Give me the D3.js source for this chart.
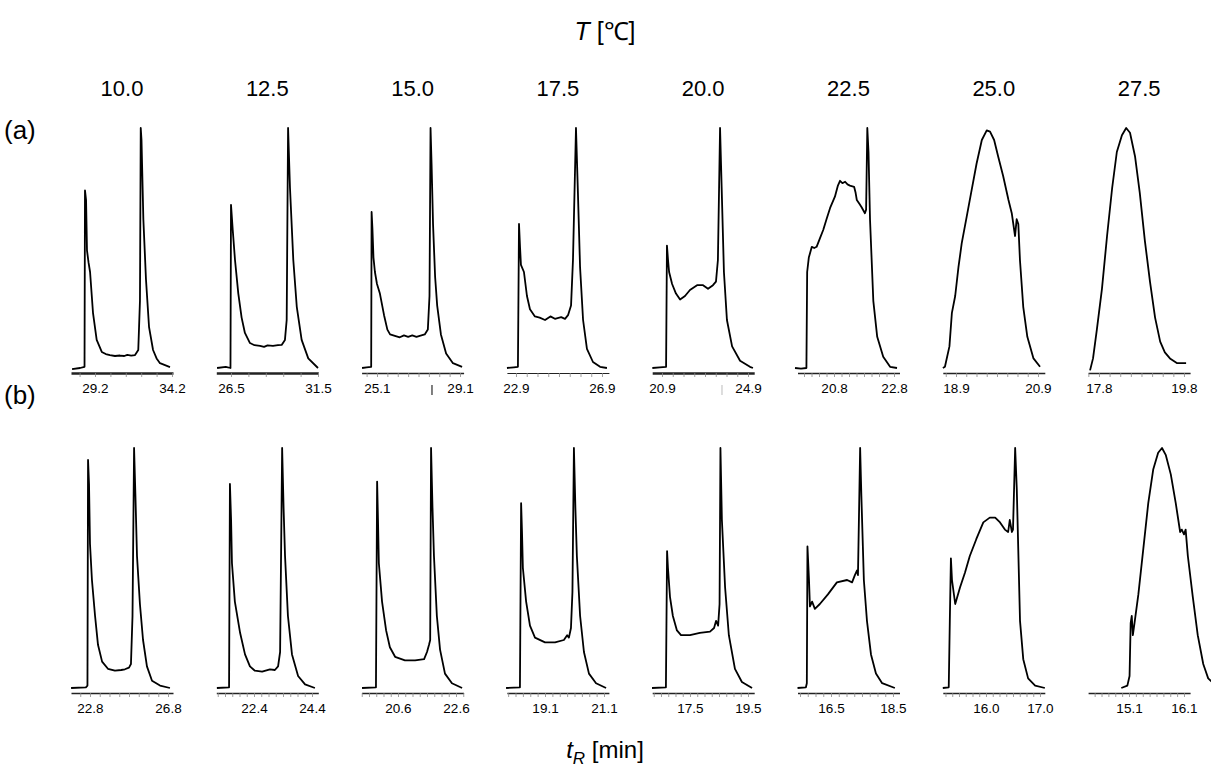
<!DOCTYPE html>
<html>
<head>
<meta charset="utf-8">
<script src="https://cdn.jsdelivr.net/npm/d3@7"></script>
<style>
  body { margin: 0; background: #fff; }
  svg { display: block; }
  text { font-family: "Liberation Sans", Arial, sans-serif; fill: #000; }
</style>
</head>
<body>
<svg id="chart" width="1211" height="776"></svg>
<script>
// Column temperatures (°C)
const temperatures = ["10.0", "12.5", "15.0", "17.5", "20.0", "22.5", "25.0", "27.5"];

// Time window [min] shown under each chromatogram
const windowsA = [[27.642, 34.265], [25.655, 31.517], [24.358, 29.273], [22.477, 27.221],
                  [20.444, 25.188], [19.583, 22.983], [18.578, 21.066], [17.544, 19.944]];
const windowsB = [[21.826, 27.056], [21.100, 24.617], [19.345, 22.862], [17.808, 21.266],
                  [16.197, 19.714], [15.419, 18.710], [15.200, 17.089], [14.356, 16.211]];

// Labelled retention times on each time axis
const tickLabelsA = [[29.2, 34.2], [26.5, 31.5], [25.1, 29.1], [22.9, 26.9],
                     [20.9, 24.9], [20.8, 22.8], [18.9, 20.9], [17.8, 19.8]];
const tickLabelsB = [[22.8, 26.8], [22.4, 24.4], [20.6, 22.6], [19.1, 21.1],
                     [17.5, 19.5], [16.5, 18.5], [16.0, 17.0], [15.1, 16.1]];

// Minor tick spacing [min]
const minorStepA = [1, 1, 0.5, 0.5, 0.5, 0.25, 0.25, 0.25];
const minorStepB = [0.5, 0.25, 0.25, 0.25, 0.25, 0.25, 0.125, 0.125];

// Chromatograms: [retention time (min), relative detector signal]
// Row (a)
const a10 = [[27.71,-0.005],[28.23,0],[28.52,0.005],[28.55,0.74],[28.62,0.70],[28.68,0.49],[28.78,0.44],[28.88,0.40],[29.07,0.23],[29.31,0.117],[29.64,0.067],[29.9,0.058],[30.17,0.054],[30.5,0.05],[30.82,0.052],[31.1,0.05],[31.3,0.055],[31.55,0.052],[31.8,0.054],[32.01,0.075],[32.12,0.28],[32.17,1.0],[32.22,0.95],[32.34,0.62],[32.51,0.37],[32.71,0.17],[32.97,0.075],[33.2,0.04],[33.42,0.02],[34.07,0.004]];
const a125 = [[25.70,0],[26.2,0.005],[26.47,0],[26.50,0.68],[26.60,0.575],[26.73,0.45],[26.92,0.31],[27.11,0.21],[27.30,0.146],[27.59,0.104],[27.85,0.095],[28.17,0.092],[28.4,0.088],[28.6,0.094],[28.91,0.092],[29.2,0.095],[29.41,0.096],[29.60,0.117],[29.70,0.2],[29.78,1.0],[29.89,0.75],[30.08,0.45],[30.28,0.255],[30.56,0.117],[30.94,0.04],[31.50,0]];
const a150 = [[24.38,0],[24.6,0.003],[24.82,0.005],[24.84,0.65],[24.88,0.58],[24.93,0.46],[25.0,0.40],[25.1,0.35],[25.24,0.31],[25.44,0.22],[25.6,0.16],[25.73,0.14],[26.0,0.133],[26.2,0.128],[26.4,0.136],[26.6,0.13],[26.8,0.136],[27.0,0.13],[27.2,0.135],[27.4,0.14],[27.55,0.16],[27.63,0.3],[27.68,1.0],[27.73,0.85],[27.8,0.6],[27.9,0.38],[28.0,0.26],[28.18,0.14],[28.43,0.06],[28.76,0.02],[29.2,0.005]];
const a175 = [[22.48,0],[22.8,0.003],[22.99,0.005],[23.04,0.60],[23.09,0.50],[23.13,0.43],[23.27,0.40],[23.41,0.30],[23.55,0.245],[23.78,0.215],[24.0,0.21],[24.25,0.2],[24.5,0.215],[24.71,0.205],[25.0,0.212],[25.18,0.205],[25.32,0.22],[25.46,0.26],[25.55,0.45],[25.69,1.0],[25.78,0.73],[25.88,0.42],[26.02,0.2],[26.20,0.08],[26.48,0.025],[26.81,0.005],[27.13,0]];
const a200 = [[20.45,0],[20.8,0.003],[21.09,0.005],[21.13,0.51],[21.18,0.45],[21.23,0.40],[21.37,0.35],[21.55,0.31],[21.74,0.285],[21.97,0.30],[22.20,0.325],[22.53,0.345],[22.81,0.345],[23.04,0.33],[23.27,0.345],[23.41,0.36],[23.50,0.45],[23.60,1.0],[23.69,0.70],[23.78,0.40],[23.92,0.2],[24.16,0.09],[24.53,0.03],[24.99,0.005],[25.13,0]];
const a225 = [[19.50,0],[19.7,-0.003],[19.88,0],[19.905,0.40],[19.96,0.46],[20.06,0.505],[20.14,0.50],[20.22,0.505],[20.33,0.54],[20.44,0.575],[20.55,0.62],[20.67,0.667],[20.83,0.714],[20.93,0.76],[21.00,0.78],[21.08,0.77],[21.17,0.776],[21.25,0.765],[21.33,0.76],[21.47,0.755],[21.52,0.73],[21.56,0.70],[21.64,0.685],[21.72,0.67],[21.83,0.645],[21.87,0.66],[21.91,1.0],[21.95,0.9],[22.0,0.62],[22.11,0.28],[22.24,0.13],[22.44,0.047],[22.67,0.005],[22.9,0]];
const a250 = [[18.58,0],[18.63,0.005],[18.74,0.09],[18.80,0.23],[18.88,0.30],[18.96,0.42],[19.04,0.52],[19.16,0.63],[19.28,0.74],[19.40,0.85],[19.53,0.95],[19.65,0.99],[19.73,0.985],[19.83,0.95],[19.93,0.88],[20.05,0.80],[20.18,0.70],[20.26,0.645],[20.34,0.55],[20.38,0.62],[20.42,0.60],[20.46,0.45],[20.54,0.255],[20.64,0.13],[20.79,0.04],[20.95,0.005]];
const a275 = [[17.59,-0.01],[17.66,0.04],[17.75,0.16],[17.87,0.33],[17.99,0.55],[18.11,0.75],[18.22,0.90],[18.34,0.97],[18.44,1.0],[18.53,0.98],[18.65,0.88],[18.76,0.73],[18.88,0.53],[19.0,0.36],[19.12,0.21],[19.24,0.11],[19.35,0.065],[19.47,0.04],[19.64,0.02],[19.85,0.02]];

// Row (b)
const b100 = [[21.83,0],[22.59,0.003],[22.67,0.01],[22.70,0.95],[22.75,0.85],[22.80,0.6],[22.90,0.45],[23.06,0.3],[23.21,0.18],[23.42,0.11],[23.72,0.08],[24.08,0.072],[24.4,0.075],[24.59,0.078],[24.80,0.085],[24.90,0.1],[24.98,0.3],[25.06,1.0],[25.13,0.8],[25.21,0.55],[25.36,0.35],[25.52,0.2],[25.72,0.09],[25.98,0.03],[26.39,0.01],[26.90,0]];
const b125 = [[21.12,0],[21.54,0.003],[21.57,0.85],[21.61,0.7],[21.64,0.52],[21.74,0.36],[21.92,0.23],[22.09,0.14],[22.26,0.09],[22.43,0.072],[22.68,0.068],[22.95,0.078],[23.12,0.075],[23.23,0.09],[23.30,0.15],[23.37,1.0],[23.42,0.75],[23.47,0.55],[23.57,0.3],[23.71,0.14],[23.92,0.05],[24.16,0.015],[24.50,0]];
const b150 = [[19.36,0],[19.84,0.003],[19.88,0.86],[19.91,0.7],[19.94,0.52],[20.05,0.36],[20.19,0.24],[20.32,0.17],[20.50,0.13],[20.84,0.115],[21.19,0.115],[21.50,0.12],[21.60,0.15],[21.67,0.18],[21.71,0.2],[21.74,1.0],[21.79,0.75],[21.84,0.55],[21.94,0.3],[22.05,0.16],[22.22,0.06],[22.46,0.02],[22.81,0]];
const b175 = [[17.78,0],[18.25,0.003],[18.29,0.77],[18.32,0.65],[18.35,0.5],[18.46,0.36],[18.59,0.26],[18.76,0.21],[19.10,0.19],[19.44,0.19],[19.74,0.2],[19.85,0.22],[19.91,0.21],[19.98,0.25],[20.03,0.4],[20.08,1.0],[20.13,0.75],[20.18,0.55],[20.29,0.3],[20.42,0.15],[20.59,0.06],[20.83,0.02],[21.17,0]];
const b200 = [[16.19,0],[16.67,0.003],[16.71,0.57],[16.74,0.5],[16.81,0.38],[16.91,0.3],[17.05,0.24],[17.19,0.22],[17.50,0.22],[17.84,0.23],[18.19,0.235],[18.33,0.25],[18.40,0.28],[18.47,0.26],[18.52,0.35],[18.55,1.0],[18.60,0.7],[18.71,0.42],[18.84,0.22],[19.05,0.08],[19.29,0.025],[19.64,0]];
const b225 = [[15.42,0],[15.69,0.003],[15.72,0.02],[15.74,0.59],[15.79,0.45],[15.82,0.34],[15.89,0.36],[15.98,0.33],[16.14,0.35],[16.40,0.39],[16.69,0.44],[17.02,0.45],[17.18,0.44],[17.27,0.47],[17.34,0.49],[17.37,0.47],[17.44,1.0],[17.48,0.8],[17.56,0.45],[17.66,0.28],[17.79,0.14],[17.95,0.06],[18.15,0.02],[18.56,0]];
const b250 = [[15.20,0],[15.31,0.003],[15.33,0.28],[15.35,0.54],[15.37,0.45],[15.43,0.35],[15.52,0.42],[15.61,0.48],[15.70,0.55],[15.82,0.62],[15.95,0.69],[16.07,0.71],[16.17,0.71],[16.26,0.69],[16.35,0.66],[16.41,0.65],[16.44,0.70],[16.48,0.65],[16.50,0.66],[16.54,1.0],[16.57,0.83],[16.63,0.28],[16.69,0.12],[16.78,0.04],[16.91,0.01],[17.09,0]];
const b275 = [[14.96,0],[15.07,0.01],[15.11,0.05],[15.13,0.27],[15.15,0.30],[15.17,0.22],[15.20,0.27],[15.27,0.39],[15.36,0.58],[15.45,0.77],[15.54,0.91],[15.63,0.98],[15.70,1.0],[15.77,0.97],[15.86,0.89],[15.95,0.77],[16.03,0.65],[16.06,0.66],[16.10,0.64],[16.13,0.66],[16.17,0.55],[16.26,0.38],[16.35,0.22],[16.45,0.1],[16.54,0.04],[16.66,0.015],[16.81,0.01]];

const tracesA = [a10, a125, a150, a175, a200, a225, a250, a275];
const tracesB = [b100, b125, b150, b175, b200, b225, b250, b275];

// Stray marks printed on the time-axis label line (row, column, time)
const strayMarks = [["a", 2, 27.75, "#000"], ["a", 4, 23.69, "#bbb"]];

// ---- layout ----
const svg = d3.select("#chart");
const colLeft = 71, colStep = 145.3, colWidth = 102;

const rows = [
  { key: "a", name: "(a)", nameY: 139, top: 128, base: 368, axisY: 373,
    windows: windowsA, labels: tickLabelsA, steps: minorStepA, traces: tracesA,
    axisWidth: [2.4, 2.4, 1.4, 1.2, 2.4, 1.4, 1.4, 1.4] },
  { key: "b", name: "(b)", nameY: 404, top: 448, base: 688, axisY: 693,
    windows: windowsB, labels: tickLabelsB, steps: minorStepB, traces: tracesB,
    axisWidth: [1.4, 1.4, 1.4, 1.4, 1.4, 1.4, 1.4, 1.4] }
];

// Title: T [℃]
const title = svg.append("text").attr("x", 605).attr("y", 40)
  .attr("text-anchor", "middle").style("font-size", "25px");
title.append("tspan").style("font-style", "italic").text("T");
title.append("tspan").text(" [℃]");

// Column temperature headers
temperatures.forEach((t, c) => {
  svg.append("text")
    .attr("x", colLeft + c * colStep + colWidth / 2)
    .attr("y", 96)
    .attr("text-anchor", "middle")
    .style("font-size", "22px")
    .text(t);
});

const line = d3.line().curve(d3.curveLinear);

rows.forEach(row => {
  svg.append("text").attr("x", 4).attr("y", row.nameY)
    .style("font-size", "26px").text(row.name);

  row.traces.forEach((trace, c) => {
    const left = colLeft + c * colStep;
    const x = d3.scaleLinear().domain(row.windows[c]).range([left, left + colWidth]);
    const y = d3.scaleLinear().domain([0, 1]).range([row.base, row.top]);

    // minor ticks, spaced from the first labelled time
    const [w0, w1] = row.windows[c];
    const step = row.steps[c];
    const first = row.labels[c][0];
    const minor = d3.range(Math.ceil((w0 - first) / step - 1e-6), Math.floor((w1 - first) / step + 1e-6) + 1)
      .map(k => first + k * step);

    const gMinor = svg.append("g").attr("transform", `translate(0,${row.axisY})`)
      .call(d3.axisBottom(x).tickValues(minor).tickSize(4).tickSizeOuter(0).tickFormat(""));
    gMinor.select(".domain").attr("stroke", "#222").attr("stroke-width", row.axisWidth[c]);
    gMinor.selectAll(".tick line").attr("stroke", "#888").attr("stroke-width", 0.8);

    const gLab = svg.append("g").attr("transform", `translate(0,${row.axisY})`)
      .call(d3.axisBottom(x).tickValues(row.labels[c]).tickSize(0).tickPadding(10)
        .tickFormat(d3.format(".1f")));
    gLab.select(".domain").remove();
    gLab.selectAll("text").style("font-size", "13.5px")
      .style("font-family", '"Liberation Sans", Arial, sans-serif').attr("fill", "#000");

    strayMarks.filter(m => m[0] === row.key && m[1] === c).forEach(m => {
      svg.append("line")
        .attr("x1", x(m[2])).attr("x2", x(m[2]))
        .attr("y1", row.axisY + 12).attr("y2", row.axisY + 22)
        .attr("stroke", m[3]).attr("stroke-width", 1);
    });

    svg.append("path")
      .datum(trace)
      .attr("d", line.x(d => x(d[0])).y(d => y(d[1])))
      .attr("fill", "none")
      .attr("stroke", "#000")
      .attr("stroke-width", 1.8)
      .attr("stroke-linejoin", "round");
  });
});

// Bottom axis title: t_R [min]
const xt = svg.append("text").attr("x", 605).attr("y", 758)
  .attr("text-anchor", "middle").style("font-size", "24px");
xt.append("tspan").style("font-style", "italic").text("t");
xt.append("tspan").style("font-style", "italic").style("font-size", "17px").attr("dy", 6).text("R");
xt.append("tspan").attr("dy", -6).text(" [min]");
</script>
</body>
</html>
